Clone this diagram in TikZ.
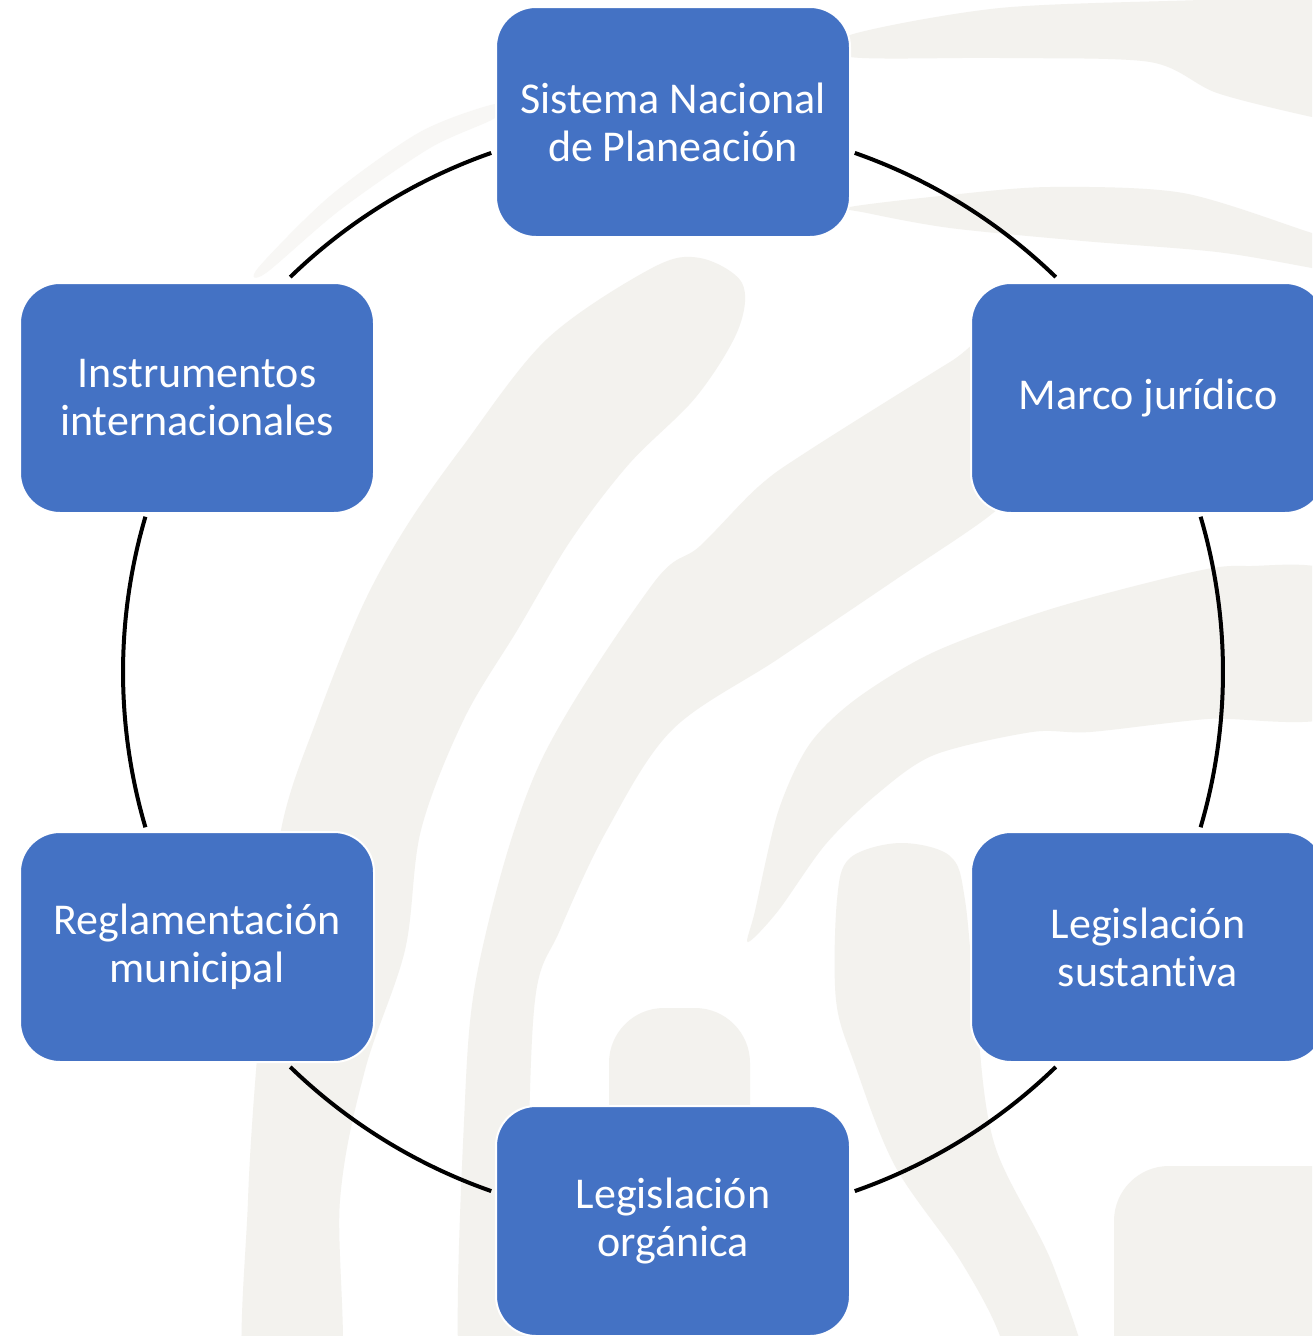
\documentclass[tikz,border=0pt]{standalone}
\usepackage{fontspec}
\setmainfont{Carlito}[Ligatures=NoCommon]
\usetikzlibrary{calc}
\definecolor{boxblue}{HTML}{4472C4}
\definecolor{wash}{RGB}{243,242,238}
\definecolor{washlight}{RGB}{248,247,245}
\begin{document}
\begin{tikzpicture}[x=1pt,y=-1pt,
  box/.style={rectangle, rounded corners=40pt, fill=boxblue, draw=white, line width=2pt,
    minimum width=354pt, minimum height=230pt, text=white, align=center,
    font=\fontsize{44}{48}\selectfont, inner sep=0pt},
  ring/.style={line width=4pt, black},
  brushfill/.style={fill=wash}]
\useasboundingbox[fill=white] (0,0) rectangle (1312,1336);
% faint background brush strokes
\begin{scope}
\clip (0,0) rectangle (1312,1336);
% stroke A (left, long)
\fill[brushfill] plot[smooth cycle, tension=0.55] coordinates {
  (700,258) (742,283) (738,330) (696,397) (629,464) (571,540) (518,629) (464,719)
  (421,830) (405,950) (365,1070) (340,1200) (337,1400) (248,1400) (248,1200)
  (262,1000) (281,830) (317,719) (362,607) (406,527) (463,446) (547,339) (652,268)};
% stroke B (middle)
\fill[brushfill] plot[smooth cycle, tension=0.55] coordinates {
  (1005,330) (950,362) (808,451) (758,487) (700,546) (652,585) (540,763) (482,950)
  (465,1100) (462,1400) (530,1400) (528,1200) (535,1000) (560,930) (607,830)
  (672,730) (778,659) (895,580) (993,513) (1015,480)};
% stroke C (right, tapering)
\fill[brushfill] plot[smooth cycle, tension=0.5] coordinates {
  (1340,578) (1246,566) (1188,573) (1051,609) (934,652) (856,699) (809,745)
  (778,812) (755,911) (748,942) (778,911) (825,845) (876,795) (934,755)
  (1032,732) (1090,732) (1207,719) (1340,712)};
% stroke D (lower right, descending)
\fill[brushfill] plot[smooth cycle, tension=0.55] coordinates {
  (900,843) (850,858) (837,900) (836,1000) (855,1065) (895,1166) (960,1260)
  (1000,1336) (1010,1400) (1090,1400) (1054,1268) (995,1146) (977,1024)
  (965,900) (950,856)};
% blob F (behind bottom box)
\fill[brushfill, rounded corners=55pt] (609,1008) rectangle (750,1420);
% block E (bottom right)
\fill[brushfill, rounded corners=55pt] (1114,1166) rectangle (1400,1420);
% top-right strokes G1, G2
\fill[brushfill] plot[smooth cycle, tension=0.5] coordinates {
  (850,35) (1000,8) (1200,0) (1340,-5) (1340,120) (1312,117) (1217,93)
  (1150,62) (1000,58) (850,57)};
\fill[brushfill] plot[smooth cycle, tension=0.5] coordinates {
  (850,207) (950,195) (1050,187) (1183,193) (1312,233) (1340,240)
  (1340,274) (1312,268) (1217,252) (1083,241) (950,228) (867,213)};
% faint stroke H (upper left)
\fill[washlight] plot[smooth cycle, tension=0.5] coordinates {
  (495,104) (420,132) (330,196) (258,268) (266,273) (340,210) (430,148) (495,118)};
\end{scope}
% ring arcs (circle centre (673,672), radius 550)
\begin{scope}[y=1pt]
\coordinate (c) at (673,-672);
\coordinate (a1) at ($(c)+(109.3:550)$);
\coordinate (a2) at ($(c)+(70.7:550)$);
\coordinate (a3) at ($(c)+(16.4:550)$);
\coordinate (a4) at ($(c)+(-45.9:550)$);
\coordinate (a5) at ($(c)+(-109.3:550)$);
\coordinate (a6) at ($(c)+(196.4:550)$);
\draw[ring] (a1) arc[start angle=109.3, end angle=134.1, radius=550];
\draw[ring] (a2) arc[start angle=70.7, end angle=45.9, radius=550];
\draw[ring] (a3) arc[start angle=16.4, end angle=-16.4, radius=550];
\draw[ring] (a4) arc[start angle=-45.9, end angle=-70.7, radius=550];
\draw[ring] (a5) arc[start angle=-109.3, end angle=-134.1, radius=550];
\draw[ring] (a6) arc[start angle=196.4, end angle=163.6, radius=550];
\end{scope}
% nodes
\node[box] (snp) at (673,122) {Sistema Nacional\\de Planeación};
\node[box] (mj)  at (1148,398) {Marco jurídico};
\node[box] (ls)  at (1148,947) {Legislación\\sustantiva};
\node[box] (lo)  at (673,1221) {Legislación\\orgánica};
\node[box] (rm)  at (197,947) {Reglamentación\\municipal};
\node[box] (ii)  at (197,398) {Instrumentos\\internacionales};
\end{tikzpicture}
\end{document}
